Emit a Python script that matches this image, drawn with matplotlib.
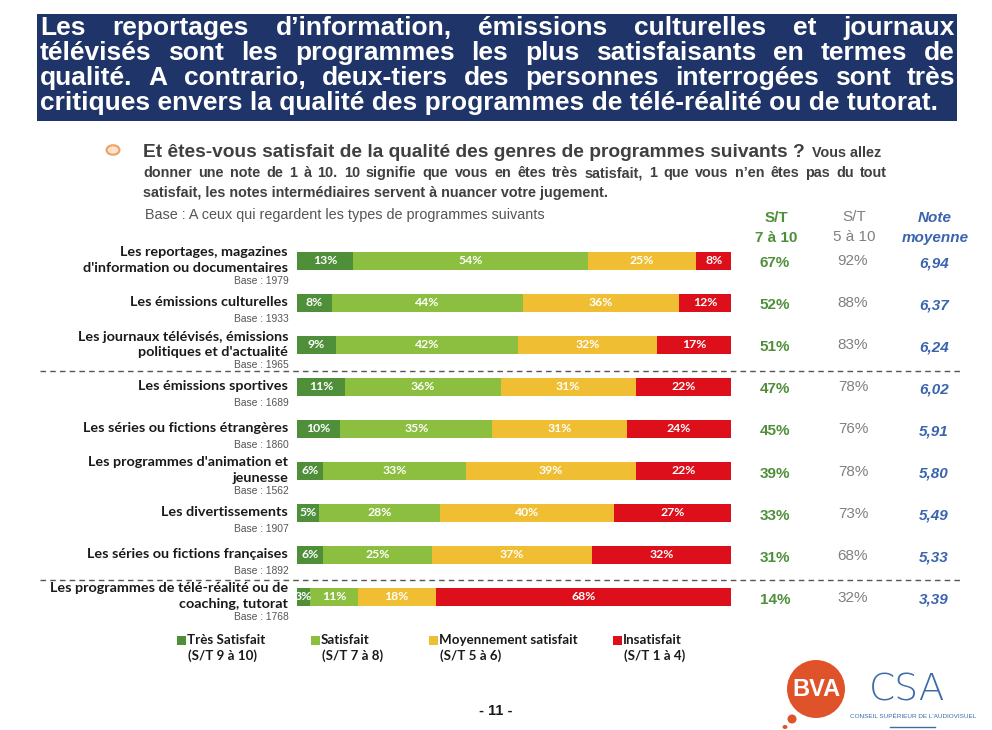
import numpy as np
import matplotlib
matplotlib.use("Agg")
import matplotlib.pyplot as plt
from matplotlib.patches import Rectangle, Circle, Ellipse

# donnees
categories = ["Les reportages, magazines\nd'information ou documentaires",
              "Les émissions culturelles",
              "Les journaux télévisés, émissions\npolitiques et d'actualité",
              "Les émissions sportives",
              "Les séries ou fictions étrangères",
              "Les programmes d'animation et\njeunesse",
              "Les divertissements",
              "Les séries ou fictions françaises",
              "Les programmes de télé-réalité ou de\ncoaching, tutorat"]
bases = [1979, 1933, 1965, 1689, 1860, 1562, 1907, 1892, 1768]
tres_satisfait = [13, 8, 9, 11, 10, 6, 5, 6, 3]
satisfait = [54, 44, 42, 36, 35, 33, 28, 25, 11]
moyen = [25, 36, 32, 31, 31, 39, 40, 37, 18]
insatisfait = [8, 12, 17, 22, 24, 22, 27, 32, 68]
st_7_10 = [67, 52, 51, 47, 45, 39, 33, 31, 14]
st_5_10 = [92, 88, 83, 78, 76, 78, 73, 68, 32]
note_moy = ["6,94", "6,37", "6,24", "6,02", "5,91", "5,80", "5,49", "5,33", "3,39"]
legend_labels = [("Très Satisfait", "(S/T 9 à 10)"), ("Satisfait", "(S/T 7 à 8)"),
                 ("Moyennement satisfait", "(S/T 5 à 6)"), ("Insatisfait", "(S/T 1 à 4)")]

colors = ["#4f8f3a", "#8cbf3f", "#f0be32", "#dc0f1a"]
navy = "#1f3468"

W, H = 992, 730
fig = plt.figure(figsize=(W / 100, H / 100), dpi=100)
fig.patch.set_facecolor("white")

def fx(x):
    return x / W

def fy(y):
    return 1 - y / H

renderer = fig.canvas.get_renderer()

def justify(words_line, x0, x1, y, **kw):
    # placement mot par mot pour un texte justifie
    words = words_line.split()
    ts = [fig.text(0, fy(y), w, va="baseline", ha="left", **kw) for w in words]
    widths = [t.get_window_extent(renderer).width for t in ts]
    gap = (x1 - x0 - sum(widths)) / max(len(words) - 1, 1)
    x = x0
    for t, w in zip(ts, widths):
        t.set_x(fx(x))
        x += w + gap

# bandeau titre
fig.patches.append(Rectangle((fx(37), fy(121)), fx(957) - fx(37), fy(14) - fy(121),
                             transform=fig.transFigure, facecolor=navy, edgecolor="none"))
title_lines = ["Les reportages d’information, émissions culturelles et journaux",
               "télévisés sont les programmes les plus satisfaisants en termes de",
               "qualité. A contrario, deux-tiers des personnes interrogées sont très"]
tkw = dict(color="white", fontsize=19, fontweight="bold", family="Liberation Sans")
for i, line in enumerate(title_lines):
    justify(line, 40, 955, 35 + 25 * i, **tkw)
fig.text(fx(40), fy(110), "critiques envers la qualité des programmes de télé-réalité ou de tutorat.",
         va="baseline", ha="left", **tkw)

# question
fig.patches.append(Circle((fx(113), fy(150)), 0.0065, transform=fig.transFigure,
                          facecolor="#fde3cf", edgecolor="#f0a060", lw=1.5))
qcol = "#404040"
t = fig.text(fx(143), fy(157), "Et êtes-vous satisfait de la qualité des genres de programmes suivants ?",
             va="baseline", ha="left", color=qcol, fontsize=13.8, fontweight="bold", family="Liberation Sans")
wq = t.get_window_extent(renderer).width
fig.text(fx(143 + wq + 7), fy(157), "Vous allez", va="baseline", ha="left", color=qcol,
         fontsize=10.4, fontweight="bold", family="Liberation Sans")
justify("donner une note de 1 à 10. 10 signifie que vous en êtes très satisfait, 1 que vous n’en êtes pas du tout",
        143, 887, 177, color=qcol, fontsize=10.4, fontweight="bold", family="Liberation Sans")
fig.text(fx(143), fy(197), "satisfait, les notes intermédiaires servent à nuancer votre jugement.",
         va="baseline", ha="left", color=qcol, fontsize=10.4, fontweight="bold", family="Liberation Sans")
fig.text(fx(145), fy(219), "Base : A ceux qui regardent les types de programmes suivants",
         va="baseline", ha="left", color="#555555", fontsize=10.4, family="Liberation Sans")

# barres
ax = fig.add_axes([fx(297), fy(618), fx(731) - fx(297), fy(240) - fy(618)])
ypos = np.arange(len(categories))
series = [tres_satisfait, satisfait, moyen, insatisfait]
left = np.zeros(len(categories))
for vals, c in zip(series, colors):
    vals = np.array(vals)
    ax.barh(ypos, vals, left=left, height=0.43, color=c, edgecolor="none")
    for yy, l, v in zip(ypos, left, vals):
        ax.text(l + v / 2, yy, f"{v}%", ha="center", va="center", color="white",
                fontsize=8.8, fontweight="bold", family="Lato")
    left += vals
ax.set_xlim(0, 100)
ax.set_ylim(len(categories) - 0.5, -0.5)
ax.axis("off")

# libelles categories
for yy, cat, b in zip(ypos, categories, bases):
    yc = 261 + 42 * yy
    nl = cat.count("\n") + 1
    fig.text(fx(288), fy(yc - 1), cat, ha="right", va="center", color="#1a1a1a",
             fontsize=10.4, fontweight="bold", family="Lato", linespacing=1.3)
    yb = yc + (20 if nl == 2 else 16)
    fig.text(fx(289), fy(yb), f"Base : {b}", ha="right", va="center", color="#555555",
             fontsize=7.4, family="Liberation Sans")

# colonnes de droite
fig.text(fx(776), fy(218), "S/T", ha="center", va="center", color="#4f8f3a",
         fontsize=11, fontweight="bold", family="Liberation Sans")
fig.text(fx(776), fy(238), "7 à 10", ha="center", va="center", color="#4f8f3a",
         fontsize=11, fontweight="bold", family="Liberation Sans")
fig.text(fx(854), fy(217), "S/T", ha="center", va="center", color="#808080",
         fontsize=11, family="Liberation Sans")
fig.text(fx(854), fy(237), "5 à 10", ha="center", va="center", color="#808080",
         fontsize=11, family="Liberation Sans")
fig.text(fx(935), fy(218), "Note", ha="center", va="center", color="#3a64b0",
         fontsize=11, fontweight="bold", style="italic", family="Liberation Sans")
fig.text(fx(935), fy(238), "moyenne", ha="center", va="center", color="#3a64b0",
         fontsize=11, fontweight="bold", style="italic", family="Liberation Sans")
for yy, a, b, n in zip(ypos, st_7_10, st_5_10, note_moy):
    yc = 262 + 42.1 * yy
    fig.text(fx(775), fy(yc + 1), f"{a}%", ha="center", va="center", color="#4f8f3a",
             fontsize=11, fontweight="bold", family="Liberation Sans")
    fig.text(fx(853), fy(yc - 1), f"{b}%", ha="center", va="center", color="#808080",
             fontsize=11, family="Liberation Sans")
    fig.text(fx(934), fy(yc + 1), n, ha="center", va="center", color="#3a64b0",
             fontsize=11, fontweight="bold", style="italic", family="Liberation Sans")

# separateurs
for ys in [371, 580]:
    fig.lines.append(plt.Line2D([fx(40), fx(962)], [fy(ys), fy(ys)], transform=fig.transFigure,
                                color="#555555", lw=1, ls=(0, (4, 3))))

# legende
for (l1, l2), c, xl in zip(legend_labels, colors, [177, 311, 429, 613]):
    fig.patches.append(Rectangle((fx(xl), fy(645)), fx(9), fy(636) - fy(645),
                                 transform=fig.transFigure, facecolor=c, edgecolor="none"))
    fig.text(fx(xl + 10), fy(640), l1, ha="left", va="center", color="#1a1a1a",
             fontsize=9.6, fontweight="bold", family="Lato")
    fig.text(fx(xl + 11), fy(656), l2, ha="left", va="center", color="#1a1a1a",
             fontsize=9.6, fontweight="bold", family="Lato")

# numero de page
fig.text(fx(496), fy(711), "- 11 -", ha="center", va="center", color="#1a1a1a",
         fontsize=10.5, fontweight="bold", family="Liberation Sans")

# logos
fig.patches.append(Ellipse((fx(816), fy(689)), fx(58), fy(660) - fy(718), transform=fig.transFigure,
                           facecolor="#e0532a", edgecolor="none"))
fig.patches.append(Ellipse((fx(792), fy(719)), fx(9), fy(714) - fy(723), transform=fig.transFigure,
                           facecolor="#e0532a", edgecolor="none"))
fig.patches.append(Ellipse((fx(785), fy(727)), fx(5), fy(725) - fy(729), transform=fig.transFigure,
                           facecolor="#e0532a", edgecolor="none"))
fig.text(fx(816), fy(690), "BVA", ha="center", va="center", color="white",
         fontsize=17, fontweight="bold", family="Liberation Sans")
fig.text(fx(907), fy(690), "CSA", ha="center", va="center", color="#3e6aa8",
         fontsize=27, family="DejaVu Sans", fontweight="light")
fig.text(fx(913), fy(717), "CONSEIL SUPÉRIEUR DE L'AUDIOVISUEL", ha="center", va="center",
         color="#3e6aa8", fontsize=4.6, family="Liberation Sans")
fig.lines.append(plt.Line2D([fx(890), fx(935)], [fy(727), fy(727)], transform=fig.transFigure,
                            color="#3e6aa8", lw=1))

fig.savefig("out.png", dpi=100, facecolor="white")
